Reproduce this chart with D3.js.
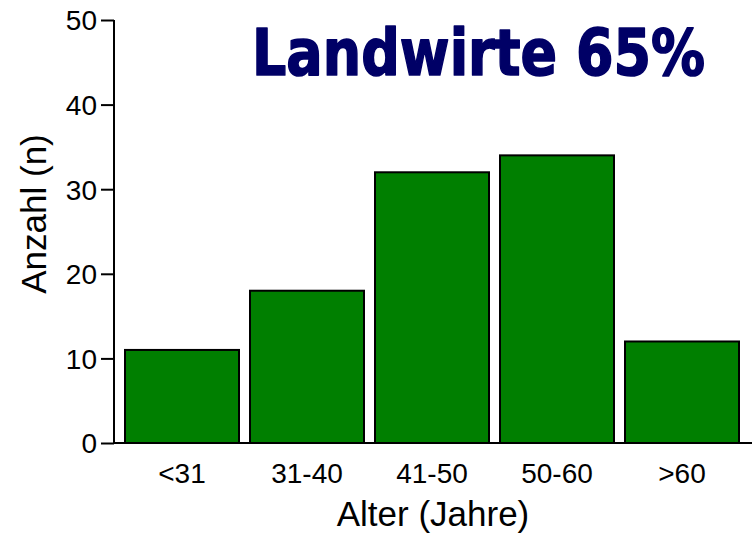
<!DOCTYPE html>
<html>
<head>
<meta charset="utf-8">
<script src="https://cdn.jsdelivr.net/npm/d3@7"></script>
<style>
	body { margin: 0; background: #fff; }
	svg { display: block; }
</style>
</head>
<body>
<svg id="chart"></svg>
<script>

var categories	=	['<31', '31-40', '41-50', '50-60', '>60'];
var counts	=	[11, 18, 32, 34, 12];
var yTicks	=	[0, 10, 20, 30, 40, 50];
var titleText	=	'Landwirte 65%';
var xTitle	=	'Alter (Jahre)';
var yTitle	=	'Anzahl (n)';

var width	=	753;
var height	=	537;
var font	=	'Liberation Sans, Arial, sans-serif';

var svg = d3.select('#chart')
	.attr('width', width)
	.attr('height', height);

var x = d3.scaleBand()
	.domain(categories)
	.range([119.5, 744.5])
	.paddingInner(0.088)
	.paddingOuter(0.044);

var y = d3.scaleLinear()
	.domain([0, 50])
	.range([443, 20]);

// bars
svg.append('g')
	.selectAll('rect')
	.data(counts)
	.enter().append('rect')
	.attr('x', function(d, i) { return x(categories[i]); })
	.attr('y', function(d) { return y(d); })
	.attr('width', x.bandwidth())
	.attr('height', function(d) { return y(0) - y(d); })
	.attr('fill', '#007f00')
	.attr('stroke', '#000')
	.attr('stroke-width', 2);

// y axis
var yAxis = svg.append('g')
	.attr('transform', 'translate(114,0)')
	.call(d3.axisLeft(y).tickValues(yTicks).tickSize(13).tickPadding(4));

yAxis.select('.domain').attr('stroke-width', 2).attr('d', 'M0,' + y(50) + 'V' + y(0));
yAxis.selectAll('.tick line').attr('stroke-width', 2);
yAxis.selectAll('.tick text')
	.attr('font-family', font)
	.attr('font-size', 28)
	.attr('fill', '#000')
	.attr('dy', '0.35em');

// x axis
var xAxis = svg.append('g')
	.attr('transform', 'translate(0,' + y(0) + ')')
	.call(d3.axisBottom(x).tickSize(0).tickPadding(20));

xAxis.select('.domain').attr('stroke-width', 2).attr('d', 'M114,0H752');
xAxis.selectAll('.tick text')
	.attr('font-family', font)
	.attr('font-size', 28)
	.attr('fill', '#000');

// axis titles
svg.append('text')
	.attr('x', 433)
	.attr('y', 526)
	.attr('text-anchor', 'middle')
	.attr('font-family', font)
	.attr('font-size', 35)
	.text(xTitle);

svg.append('text')
	.attr('transform', 'translate(46,214) rotate(-90)')
	.attr('text-anchor', 'middle')
	.attr('font-family', font)
	.attr('font-size', 35)
	.text(yTitle);

// title (no comic font here, so stretch a bold sans a bit)
svg.append('text')
	.attr('transform', 'translate(252,75) scale(1,1.12)')
	.attr('font-family', '"Comic Sans MS", "DejaVu Sans", sans-serif')
	.attr('font-weight', 'bold')
	.attr('font-size', 58)
	.attr('fill', '#000066')
	.attr('stroke', '#000066')
	.attr('stroke-width', 1.5)
	.attr('stroke-linejoin', 'round')
	.attr('textLength', 453)
	.attr('lengthAdjust', 'spacingAndGlyphs')
	.text(titleText);

</script>
</body>
</html>
